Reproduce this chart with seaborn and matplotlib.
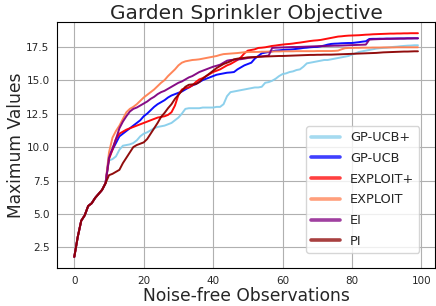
import numpy as np
import pandas as pd
import matplotlib
matplotlib.use("Agg")
import matplotlib.pyplot as plt
import seaborn as sns

# shared start (x = 0..9), all methods identical here
warmup = [1.8, 3.3, 4.5, 4.9, 5.6, 5.8, 6.2, 6.5, 6.8, 7.3]

# x = 10..99
gp_ucb_plus = [
    9.0, 9.1, 9.3, 9.8, 10.1, 10.15, 10.2, 10.3, 10.5, 10.8,
    11.0, 11.1, 11.25, 11.4, 11.5, 11.55, 11.6, 11.7, 11.8, 12.0,
    12.2, 12.5, 12.85, 12.9, 12.9, 12.9, 12.9, 12.95, 12.95, 12.95,
    12.95, 13.0, 13.0, 13.2, 13.8, 14.1, 14.15, 14.2, 14.25, 14.3,
    14.35, 14.4, 14.45, 14.45, 14.5, 14.8, 14.85, 14.95, 15.1, 15.3,
    15.45, 15.5, 15.6, 15.65, 15.75, 15.8, 16.0, 16.25, 16.3, 16.35,
    16.4, 16.45, 16.5, 16.5, 16.55, 16.6, 16.65, 16.7, 16.75, 16.8,
    16.9, 17.0, 17.1, 17.15, 17.2, 17.25, 17.3, 17.35, 17.38, 17.4,
    17.42, 17.45, 17.48, 17.5, 17.53, 17.55, 17.57, 17.58, 17.6, 17.6]
gp_ucb = [
    9.3, 9.8, 10.3, 10.8, 11.0, 11.2, 11.4, 11.6, 11.8, 12.0,
    12.3, 12.5, 12.75, 13.0, 13.2, 13.35, 13.5, 13.7, 13.85, 13.95,
    14.05, 14.15, 14.3, 14.45, 14.6, 14.7, 14.85, 15.0, 15.1, 15.2,
    15.3, 15.4, 15.45, 15.5, 15.55, 15.57, 15.6, 15.8, 15.95, 16.1,
    16.2, 16.3, 16.6, 16.8, 17.0, 17.05, 17.1, 17.15, 17.2, 17.22,
    17.25, 17.27, 17.28, 17.3, 17.33, 17.36, 17.4, 17.42, 17.45, 17.47,
    17.48, 17.52, 17.58, 17.65, 17.7, 17.72, 17.73, 17.75, 17.76, 17.77,
    17.77, 17.8, 17.83, 17.87, 17.9, 18.07, 18.08, 18.08, 18.09, 18.09,
    18.1, 18.1, 18.1, 18.11, 18.11, 18.11, 18.12, 18.12, 18.12, 18.12]
exploit_plus = [
    9.1, 9.8, 10.6, 11.0, 11.15, 11.3, 11.4, 11.5, 11.6, 11.7,
    11.8, 11.9, 12.0, 12.1, 12.2, 12.25, 12.3, 12.4, 12.6, 13.1,
    13.9, 14.3, 14.4, 14.45, 14.6, 14.85, 15.05, 15.15, 15.3, 15.45,
    15.6, 15.7, 15.8, 15.95, 16.1, 16.2, 16.35, 16.5, 16.7, 17.0,
    17.2, 17.25, 17.3, 17.4, 17.42, 17.45, 17.5, 17.55, 17.58, 17.62,
    17.65, 17.68, 17.7, 17.73, 17.77, 17.8, 17.84, 17.88, 17.92, 17.95,
    17.97, 18.0, 18.05, 18.1, 18.15, 18.2, 18.25, 18.27, 18.3, 18.32,
    18.33, 18.34, 18.35, 18.37, 18.39, 18.4, 18.42, 18.43, 18.44, 18.45,
    18.46, 18.47, 18.47, 18.48, 18.48, 18.49, 18.49, 18.5, 18.5, 18.5]
exploit = [
    9.6, 10.7, 11.2, 11.6, 12.1, 12.6, 12.85, 13.0, 13.2, 13.45,
    13.7, 13.9, 14.1, 14.3, 14.55, 14.8, 15.0, 15.3, 15.55, 15.8,
    16.1, 16.3, 16.4, 16.45, 16.5, 16.52, 16.55, 16.6, 16.65, 16.7,
    16.75, 16.8, 16.88, 16.94, 16.96, 16.98, 17.0, 17.02, 17.05, 17.08,
    17.1, 17.1, 17.1, 17.1, 17.12, 17.12, 17.13, 17.13, 17.14, 17.14,
    17.15, 17.15, 17.15, 17.15, 17.16, 17.16, 17.16, 17.16, 17.16, 17.16,
    17.17, 17.17, 17.17, 17.17, 17.17, 17.18, 17.2, 17.3, 17.38, 17.4,
    17.4, 17.41, 17.41, 17.42, 17.42, 17.42, 17.43, 17.43, 17.43, 17.44,
    17.44, 17.44, 17.44, 17.45, 17.45, 17.45, 17.45, 17.45, 17.45, 17.45]
ei = [
    9.2, 9.9, 10.6, 11.4, 11.9, 12.3, 12.65, 12.85, 12.95, 13.1,
    13.25, 13.4, 13.6, 13.75, 13.95, 14.1, 14.2, 14.35, 14.5, 14.65,
    14.8, 14.9, 15.05, 15.2, 15.3, 15.45, 15.6, 15.7, 15.8, 15.9,
    16.0, 16.07, 16.15, 16.3, 16.45, 16.5, 16.52, 16.54, 16.56, 16.6,
    16.65, 16.68, 16.7, 16.74, 16.77, 16.8, 16.83, 17.4, 17.42, 17.43,
    17.44, 17.45, 17.46, 17.47, 17.47, 17.48, 17.49, 17.5, 17.51, 17.52,
    17.53, 17.54, 17.54, 17.55, 17.56, 17.57, 17.57, 17.58, 17.59, 17.6,
    17.61, 17.62, 17.63, 17.64, 17.65, 18.02, 18.04, 18.05, 18.06, 18.07,
    18.08, 18.08, 18.09, 18.09, 18.1, 18.1, 18.11, 18.11, 18.12, 18.12]
pi = [
    7.9, 8.0, 8.15, 8.3, 8.8, 9.2, 9.6, 10.0, 10.15, 10.25,
    10.35, 10.6, 11.0, 11.4, 11.8, 12.25, 12.55, 12.9, 13.2, 13.6,
    13.9, 14.2, 14.5, 14.65, 14.68, 14.7, 14.85, 15.1, 15.3, 15.5,
    15.7, 15.9, 16.05, 16.2, 16.3, 16.4, 16.55, 16.6, 16.63, 16.66,
    16.7, 16.71, 16.72, 16.74, 16.75, 16.76, 16.77, 16.78, 16.79, 16.8,
    16.8, 16.81, 16.82, 16.83, 16.84, 16.85, 16.86, 16.87, 16.88, 16.88,
    16.89, 16.89, 16.9, 16.9, 16.9, 16.91, 16.92, 16.93, 16.94, 16.95,
    16.96, 16.97, 16.98, 16.99, 17.0, 17.01, 17.02, 17.03, 17.05, 17.07,
    17.08, 17.09, 17.1, 17.11, 17.12, 17.13, 17.13, 17.14, 17.15, 17.15]

methods = ["GP-UCB+", "GP-UCB", "EXPLOIT+", "EXPLOIT", "EI", "PI"]
series = [gp_ucb_plus, gp_ucb, exploit_plus, exploit, ei, pi]
colors = ["skyblue", "blue", "red", "coral", "purple", "darkred"]

frames = []
for name, vals in zip(methods, series):
    y = warmup + vals
    frames.append(pd.DataFrame({"obs": np.arange(len(y)), "value": y, "method": name}))
df = pd.concat(frames, ignore_index=True)

sns.set_style("whitegrid", {"axes.edgecolor": "black", "grid.color": "#b0b0b0"})
plt.rcParams["font.family"] = ["DejaVu Sans"]

fig = plt.figure(figsize=(4.36, 3.06), dpi=100)
ax = fig.add_axes([0.131, 0.124, 0.867, 0.804])

sns.lineplot(data=df, x="obs", y="value", hue="method", hue_order=methods,
             palette=colors, linewidth=1.4, alpha=0.95, ax=ax)

ax.set_title("Garden Sprinkler Objective", fontsize=14.5, pad=2)
ax.set_xlabel("Noise-free Observations", fontsize=12.3, labelpad=1)
ax.set_ylabel("Maximum Values", fontsize=12.3, labelpad=1)
ax.tick_params(labelsize=7.5, pad=2)
ax.set_xticks([0, 20, 40, 60, 80, 100])
ax.set_yticks([2.5, 5.0, 7.5, 10.0, 12.5, 15.0, 17.5])

leg = ax.legend(loc="lower right", bbox_to_anchor=(0.958, 0.061), borderaxespad=0,
                fontsize=9.3, labelspacing=0.6, handlelength=2.2, frameon=True)
for h in leg.get_lines():
    h.set_linewidth(2.6)
    h.set_alpha(0.75)

fig.savefig("out.png", dpi=100)
